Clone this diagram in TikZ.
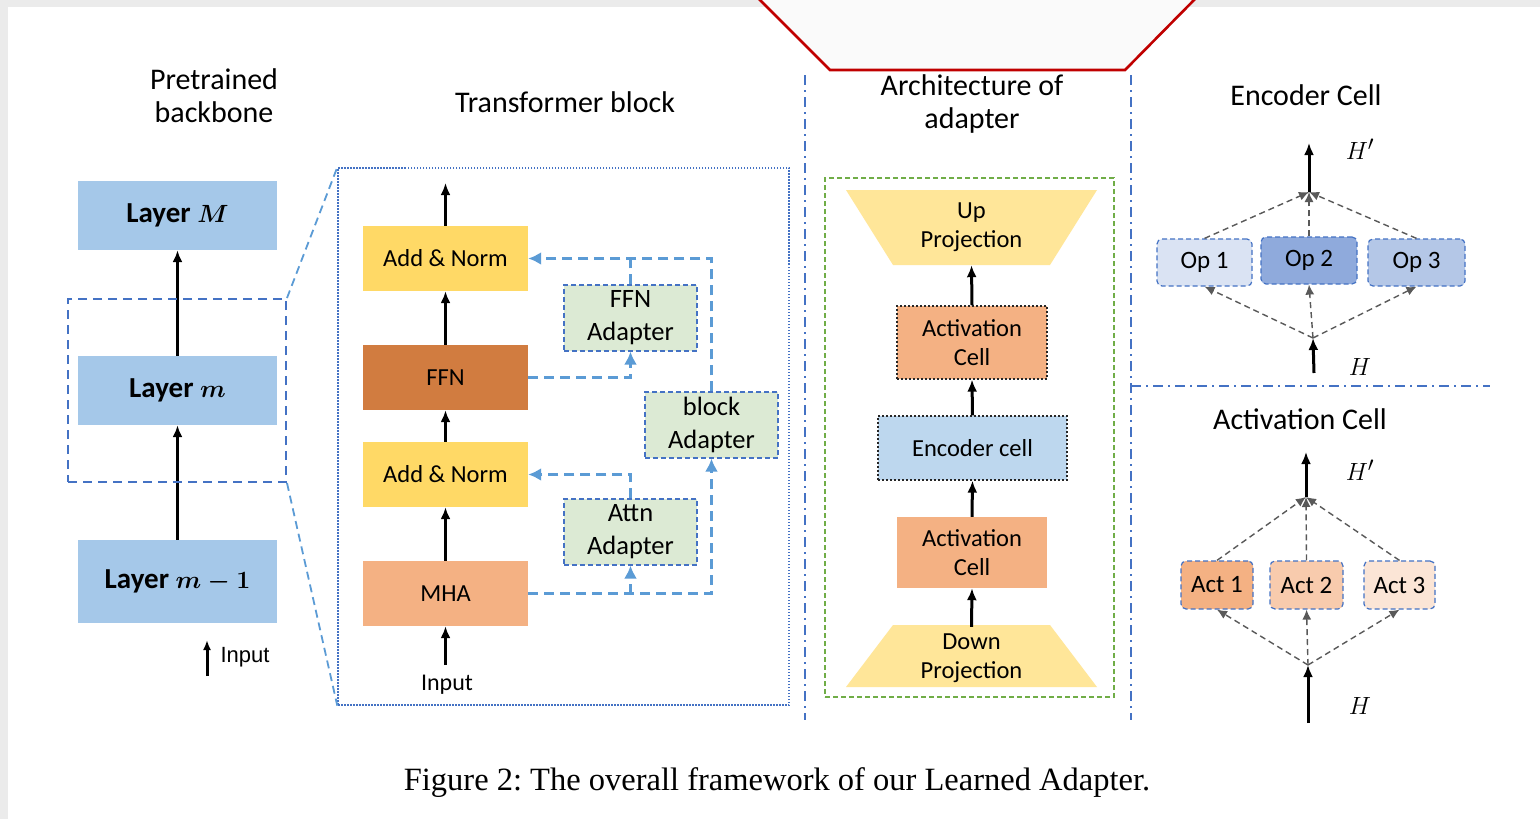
\documentclass[tikz,border=0pt]{standalone}
\usepackage{fontspec}
\setmainfont{Carlito}
\newfontfamily\capfont{Liberation Serif}
\newfontfamily\armfont{Liberation Sans}
\usetikzlibrary{arrows.meta}

\definecolor{layerblue}{HTML}{A5C8E9}
\definecolor{normyellow}{HTML}{FFD966}
\definecolor{ffnbrown}{HTML}{D17C40}
\definecolor{mhaorange}{HTML}{F4B183}
\definecolor{adgreen}{HTML}{DCEAD4}
\definecolor{projyellow}{HTML}{FFE699}
\definecolor{encblue}{HTML}{BDD7EE}
\definecolor{opA}{HTML}{DAE3F3}
\definecolor{opB}{HTML}{8FAADC}
\definecolor{opC}{HTML}{B4C7E7}
\definecolor{actA}{HTML}{F4B183}
\definecolor{actB}{HTML}{F8CBAD}
\definecolor{actC}{HTML}{FBE5D6}
\definecolor{lightline}{HTML}{5B9BD5}
\definecolor{darkline}{HTML}{4472C4}
\definecolor{greenline}{HTML}{70AD47}
\definecolor{redline}{HTML}{C00000}

\newcommand\fsTitle{\fontsize{30}{37}\selectfont}
\newcommand\fsLayer{\fontsize{29}{32}\selectfont\bfseries\boldmath}
\newcommand\fsBox{\fontsize{24.5}{29}\selectfont}
\newcommand\fsAd{\fontsize{26.5}{33}\selectfont}
\newcommand\fsOp{\fontsize{25}{28}\selectfont}

\tikzset{
  blk/.style={line width=3pt, -{Latex[length=12pt,width=10pt]}},
  adline/.style={lightline, line width=2.6pt, dash pattern=on 10pt off 6pt},
  adarrow/.style={adline, -{Latex[length=13pt,width=13pt,sep=0pt]}},
  greydash/.style={black!65, line width=1.4pt, dash pattern=on 6pt off 4pt},
  greyarrow/.style={greydash, -{Latex[length=10pt,width=9pt]}},
  dashdot/.style={darkline, line width=2pt, dash pattern=on 10pt off 5pt on 2pt off 5pt},
  layerbox/.style={fill=layerblue, minimum width=199pt, inner sep=0pt, font=\fsLayer},
  tbox/.style={minimum width=165pt, minimum height=65pt, inner sep=0pt, font=\fsBox},
  adbox/.style={fill=adgreen, draw=darkline, line width=1.2pt, dash pattern=on 5pt off 3pt,
    minimum width=133pt, minimum height=66pt, inner sep=0pt, align=center, font=\fsAd},
  cellbox/.style={inner sep=0pt, align=center, font=\fsBox},
  dotbox/.style={draw=black!85, line width=1.3pt, dash pattern=on 2pt off 2pt},
  opbox/.style={draw=darkline, line width=1.2pt, dash pattern=on 5pt off 3pt,
    rounded corners=5pt, inner sep=0pt, minimum height=47pt, font=\fsOp},
  title/.style={align=center, font=\fsTitle},
  mathlabel/.style={font=\fontsize{31}{33}\selectfont},
}

\begin{document}
\begin{tikzpicture}[x=1pt,y=-1pt]
\useasboundingbox (0,0) rectangle (1540,819);
% page background
\fill[black!8] (0,0) rectangle (1540,819);
\fill[white] (8,7) rectangle (1540,819);
% red outline shape at the top edge
\draw[redline, line width=2.6pt, fill=black!2] (757,-3) -- (830,70) -- (1125,70) -- (1197,-3);

% ---------------- pretrained backbone ----------------
\node[title] (tPre) at (214,96) {Pretrained\\[-4pt]backbone};
\node[layerbox, minimum height=69pt] (lM) at (177.5,215.5) {Layer $M$};
\node[layerbox, minimum height=69pt] (lm) at (177.5,390.5) {Layer $m$};
\node[layerbox, minimum height=83pt] (lm1) at (177.5,581.5) {Layer $m-1$};
\draw[blk] (lm.north) -- (lM.south);
\draw[blk] (lm1.north) -- (lm.south);
\node[draw=darkline, line width=2pt, dash pattern=on 9pt off 6pt, minimum width=218pt,
  minimum height=183pt, inner sep=0pt] (zoom) at (177,390.5) {};
\coordinate (inA) at (207,676);
\coordinate (inB) at (207,640);
\draw[line width=3pt, -{Latex[length=10pt,width=8pt]}] (inA) -- (inB);
\node[font=\armfont\fontsize{22}{24}\selectfont, anchor=west] (inTxt) at (217,657) {Input};

% ---------------- transformer block ----------------
\node[title] (tTr) at (565,102) {Transformer block};
\node[draw=darkline, line width=1.4pt, dash pattern=on 1.5pt off 1.5pt, minimum width=451pt,
  minimum height=537pt, inner sep=0pt] (tb) at (563.5,436.5) {};
\draw[lightline, line width=1.8pt, dash pattern=on 8pt off 5pt] (zoom.north east) -- (tb.north west);
\draw[lightline, line width=1.8pt, dash pattern=on 8pt off 5pt] (zoom.south east) -- (tb.south west);

\node[tbox, fill=normyellow] (an1) at (445.5,258.5) {Add \& Norm};
\node[tbox, fill=ffnbrown] (ffn) at (445.5,377.5) {FFN};
\node[tbox, fill=normyellow] (an2) at (445.5,474.5) {Add \& Norm};
\node[tbox, fill=mhaorange] (mha) at (445.5,593.5) {MHA};
\coordinate (tOut) at (445.5,183);
\coordinate (tIn) at (445.5,665);
\draw[blk] (an1.north) -- (tOut);
\draw[blk] (ffn.north) -- (an1.south);
\draw[blk] (an2.north) -- (ffn.south);
\draw[blk] (mha.north) -- (an2.south);
\draw[blk] (tIn) -- (mha.south);
\node[font=\fontsize{24}{26}\selectfont] (tInTxt) at (447,685) {Input};

\node[adbox] (fa) at (630.5,318) {FFN\\Adapter};
\node[adbox] (aa) at (630.5,532) {Attn\\Adapter};
\node[adbox] (ba) at (711.5,425) {block\\Adapter};

\draw[adarrow] (ffn.east) -| (fa.south);
\draw[adline] (fa.north) -- (fa.north |- an1.east);
\draw[adarrow] (ba.north) |- (an1.east);
\draw[adarrow] (mha.east) -| (ba.south);
\draw[adarrow] (mha.east -| aa.south) -- (aa.south);
\draw[adarrow] (aa.north) |- (an2.east);

% ---------------- panel separators ----------------
\coordinate (sepAt) at (805,75);
\coordinate (sepAb) at (805,720);
\coordinate (sepBt) at (1131,75);
\coordinate (sepBb) at (1131,720);
\coordinate (sepCr) at (1490,386);
\draw[dashdot] (sepAt) -- (sepAb);
\draw[dashdot] (sepBt) -- (sepBb);
\draw[dashdot] (sepBt |- sepCr) -- (sepCr);

% ---------------- adapter architecture ----------------
\node[title] (tArch) at (972,104) {Architecture of\\[-4pt]adapter};
\node[draw=greenline, line width=1.2pt, dash pattern=on 5pt off 3pt, minimum width=289pt,
  minimum height=519pt, inner sep=0pt] (gbox) at (969.5,437.5) {};

\fill[projyellow] (846,190) -- (1097,190) -- (1050,265) -- (893,265) -- cycle;
\node[cellbox, minimum width=157pt, minimum height=75pt] (up) at (971.5,227.5) {Up\\Projection};
\node[cellbox, dotbox, fill=mhaorange, minimum width=150pt, minimum height=73pt] (ac1) at (972,342.5) {Activation\\Cell};
\node[cellbox, dotbox, fill=encblue, minimum width=189pt, minimum height=64pt] (enc) at (972.5,448) {Encoder cell};
\node[cellbox, fill=mhaorange, minimum width=150pt, minimum height=71pt] (ac2) at (972,552.5) {Activation\\Cell};
\fill[projyellow] (893,625) -- (1050,625) -- (1097,687) -- (846,687) -- cycle;
\node[cellbox, minimum width=157pt, minimum height=62pt] (down) at (971.5,658) {Down\\Projection};

\draw[blk] (down.north) -- (ac2.south);
\draw[blk] (ac2.north) -- (enc.south);
\draw[blk] (enc.north) -- (ac1.south);
\draw[blk] (ac1.north) -- (up.south);

% ---------------- encoder cell ----------------
\node[title] (tEnc) at (1306,95) {Encoder Cell};
\node[opbox, fill=opA, minimum width=95pt] (op1) at (1204.5,262.5) {Op 1};
\node[opbox, fill=opB, minimum width=96pt] (op2) at (1309,260.5) {Op 2};
\node[opbox, fill=opC, minimum width=97pt] (op3) at (1416.5,262.5) {Op 3};
\coordinate (eMerge) at (1309,192);
\coordinate (eOut) at (1309,143);
\coordinate (eSplit) at (1313,338);
\coordinate (eIn) at (1314,373);
\draw[greyarrow] (op1.north) -- (eMerge);
\draw[greyarrow] (op2.north) -- (eMerge);
\draw[greyarrow] (op3.north) -- (eMerge);
\draw[greyarrow] (eSplit) -- (op1.south);
\draw[greyarrow] (eSplit) -- (op2.south);
\draw[greyarrow] (eSplit) -- (op3.south);
\draw[blk] (eMerge) -- (eOut);
\draw[blk] (eIn) -- (eSplit);
\node[mathlabel] (eHp) at (1360,149) {$H'$};
\node[mathlabel] (eH) at (1360,367) {$H$};

% ---------------- activation cell ----------------
\node[title] (tAct) at (1300,419) {Activation Cell};
\node[opbox, fill=actA, minimum width=72pt, minimum height=48pt] (a1) at (1217,585) {Act 1};
\node[opbox, fill=actB, minimum width=73pt, minimum height=48pt] (a2) at (1306.5,585) {Act 2};
\node[opbox, fill=actC, minimum width=71pt, minimum height=48pt] (a3) at (1399.5,585) {Act 3};
\coordinate (aMerge) at (1306,497);
\coordinate (aOut) at (1306,452);
\coordinate (aSplit) at (1308,665);
\coordinate (aIn) at (1308,723);
\draw[greyarrow] (a1.north) -- (aMerge);
\draw[greyarrow] (a2.north) -- (aMerge);
\draw[greyarrow] (a3.north) -- (aMerge);
\draw[greyarrow] (aSplit) -- (a1.south);
\draw[greyarrow] (aSplit) -- (a2.south);
\draw[greyarrow] (aSplit) -- (a3.south);
\draw[blk] (aMerge) -- (aOut);
\draw[blk] (aIn) -- (aSplit);
\node[mathlabel] (aHp) at (1360,470) {$H'$};
\node[mathlabel] (aH) at (1360,706) {$H$};

% ---------------- caption ----------------
\node[font=\capfont\fontsize{32.5}{35}\selectfont] (cap) at (777,783)
  {Figure 2:\ The overall framework of our Learned Adapter.};
\end{tikzpicture}
\end{document}
